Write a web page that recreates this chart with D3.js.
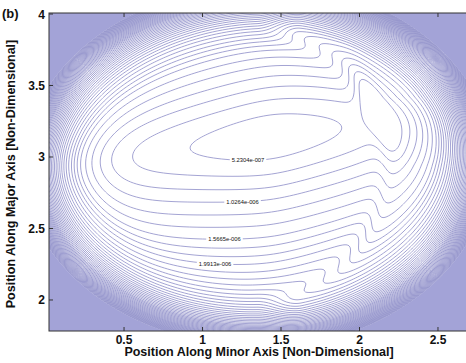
<!DOCTYPE html>
<html>
<head>
<meta charset="utf-8">
<script src="https://cdn.jsdelivr.net/npm/d3@7"></script>
<style>
  body { margin: 0; background: #fff; }
  svg { display: block; }
  text { font-family: Arial, "Liberation Sans", sans-serif; fill: #111; }
</style>
</head>
<body>
<svg id="chart" width="466" height="363"></svg>
<script>
// Axis ranges and ticks
const xDomain = [0.022, 2.704];
const yDomain = [1.783, 4.007];
const xTicks = [0.5, 1, 1.5, 2, 2.5];
const yTicks = [2, 2.5, 3, 3.5, 4];

// Labelled contour levels and where they are written
const labelValues = [5.2304e-7, 1.0264e-6, 1.5665e-6, 1.9913e-6];
const labelTexts = ["5.2304e-007", "1.0264e-006", "1.5665e-006", "1.9913e-006"];
const labelX = [1.29, 1.255, 1.14, 1.08];
const labelYGuess = [2.98, 2.71, 2.50, 2.31];
// number of level intervals between consecutive labelled levels
const stepsBetweenLabels = [3, 3, 3];
const outerStep = 0.16e-6;   // level spacing beyond the last labelled level
const levelCap = 9e-6;       // highest drawn level, solid above
const hazeLevels = [5e-6, 6.5e-6, 7.8e-6];  // light shading where lines crowd together

// Field model (micro-units): tilted valley, steep outer wall,
// a ring-shaped step on the right and an elongated pocket on that ring
const valley = { x: 1.43, y: 3.14, tilt: 0.15, base: 0.408 };
const valleySlope = { left: 0.33, right: 0.36, y: 2.2, cx: 0.2, cy: 0.2 };
const wall = { x: 1.347, y: 2.93, ax: 1.24, ay: 1.08, k: 1.8, p: 4 };
const ring = { x: 1.30, y: 2.944, rx: 0.86, ry: 0.944, depth: 0.38, gainBelow: 0.35, gainAbove: 0.9, width: 0.03 };
const pocket = { x: 2.08, y: 3.37, dirX: 0.394, dirY: -0.919, len: 0.28, wid: 0.075, depth: 0.4 };

function smoothstep(e0, e1, v) {
  const t = Math.max(0, Math.min(1, (v - e0) / (e1 - e0)));
  return t * t * (3 - 2 * t);
}

function field(x, y) {
  const dx = x - valley.x;
  const dy = y - (valley.y + valley.tilt * dx);
  const sx = dx < 0 ? valleySlope.left : valleySlope.right;
  const tx = sx * (Math.sqrt(dx * dx + valleySlope.cx ** 2) - valleySlope.cx);
  const ty = valleySlope.y * (Math.sqrt(dy * dy + valleySlope.cy ** 2) - valleySlope.cy);
  const ox = (x - wall.x) / wall.ax, oy = (y - wall.y) / wall.ay;
  const w = wall.k * Math.pow(ox * ox + oy * oy, wall.p);
  const rx = (x - ring.x) / ring.rx, ry = (y - ring.y) / ring.ry;
  const rr = Math.hypot(rx, ry) || 1e-9;
  const side = smoothstep(0.05, 0.35, rx / rr);
  const depth = ring.depth + ring.gainBelow * Math.max(0, -ry) + ring.gainAbove * Math.max(0, ry - 0.5);
  const step = -depth * side / (1 + Math.exp(-(rr - 1) / ring.width));
  const px = x - pocket.x, py = y - pocket.y;
  const u = px * pocket.dirX + py * pocket.dirY;
  const v = px * -pocket.dirY + py * pocket.dirX;
  const dip = -pocket.depth * Math.exp(-(u * u) / (pocket.len ** 2) - (v * v) / (pocket.wid ** 2));
  return (valley.base + tx + ty + w + step + dip) * 1e-6;
}

// Contour levels
const levels = [];
labelValues.forEach((v, i) => {
  if (i < stepsBetweenLabels.length) {
    const n = stepsBetweenLabels[i];
    const d = (labelValues[i + 1] - v) / n;
    for (let k = 0; k < n; k++) levels.push(v + k * d);
  } else {
    for (let l = v; l <= levelCap; l += outerStep) levels.push(l);
  }
});

const svg = d3.select("#chart");
const plot = { left: 49, top: 13, right: 470, bottom: 331 };
const x = d3.scaleLinear().domain(xDomain).range([plot.left, plot.right]);
const y = d3.scaleLinear().domain(yDomain).range([plot.bottom, plot.top]);

// Sample the field on a pixel grid slightly larger than the plot
const pad = 3;
const gx0 = plot.left - pad, gy0 = plot.top - pad;
const nx = plot.right - plot.left + 2 * pad + 1;
const ny = plot.bottom - plot.top + 2 * pad + 1;
const values = new Float64Array(nx * ny);
for (let j = 0; j < ny; j++) {
  const yy = y.invert(gy0 + j);
  for (let i = 0; i < nx; i++) values[i + j * nx] = field(x.invert(gx0 + i), yy);
}

const toScreen = d3.geoTransform({
  point(px, py) { this.stream.point(gx0 + px - 0.5, gy0 + py - 0.5); }
});
const path = d3.geoPath(toScreen);

svg.append("clipPath").attr("id", "clip")
  .append("rect").attr("x", plot.left).attr("y", plot.top)
  .attr("width", plot.right - plot.left).attr("height", plot.bottom - plot.top);

const g = svg.append("g").attr("clip-path", "url(#clip)");
g.append("rect").attr("x", plot.left).attr("y", plot.top)
  .attr("width", plot.right - plot.left).attr("height", plot.bottom - plot.top)
  .attr("fill", "#ffffff");

const gen = d3.contours().size([nx, ny]);
g.selectAll("path.haze")
  .data(hazeLevels.map(l => gen.contour(values, l)))
  .join("path").attr("class", "haze")
  .attr("d", path).attr("fill", "#a3a3d7").attr("fill-opacity", 0.22).attr("stroke", "none");
g.append("path").datum(gen.contour(values, levelCap))
  .attr("d", path).attr("fill", "#a3a3d7").attr("stroke", "none");

g.selectAll("path.level")
  .data(levels.map(l => gen.contour(values, l)))
  .join("path")
  .attr("class", "level")
  .attr("d", path)
  .attr("fill", "none")
  .attr("stroke", "#9393cb")
  .attr("stroke-width", 0.85);

// Inline labels on the labelled levels
labelValues.forEach((v, i) => {
  let lo = labelYGuess[i] - 0.15, hi = labelYGuess[i] + 0.15;
  const f = yy => field(labelX[i], yy) - v;
  for (let k = 0; k < 40; k++) {
    const mid = (lo + hi) / 2;
    if (f(mid) > 0) lo = mid; else hi = mid;
  }
  const px = x(labelX[i]), py = y((lo + hi) / 2);
  const t = g.append("text").attr("x", px).attr("y", py + 1.9)
    .attr("text-anchor", "middle").style("font-size", "5.8px").text(labelTexts[i]);
  const bb = t.node().getBBox();
  g.insert("rect", function () { return t.node(); })
    .attr("x", bb.x - 2).attr("y", py - 2.5).attr("width", bb.width + 4).attr("height", 5)
    .attr("fill", "#fff");
});

// Frame and inward ticks
const axisColor = "#333";
svg.append("rect").attr("x", plot.left).attr("y", plot.top)
  .attr("width", plot.right - plot.left).attr("height", plot.bottom - plot.top)
  .attr("fill", "none").attr("stroke", axisColor).attr("stroke-width", 1);

const tickLen = 4;
xTicks.forEach(t => {
  svg.append("line").attr("x1", x(t)).attr("x2", x(t)).attr("y1", plot.bottom).attr("y2", plot.bottom - tickLen).attr("stroke", axisColor);
  svg.append("line").attr("x1", x(t)).attr("x2", x(t)).attr("y1", plot.top).attr("y2", plot.top + tickLen).attr("stroke", axisColor);
  svg.append("text").attr("x", x(t)).attr("y", plot.bottom + 12.5)
    .attr("text-anchor", "middle").style("font-size", "12px").style("font-weight", "bold").text(t);
});
yTicks.forEach(t => {
  svg.append("line").attr("x1", plot.left).attr("x2", plot.left + tickLen).attr("y1", y(t)).attr("y2", y(t)).attr("stroke", axisColor);
  svg.append("text").attr("x", plot.left - 4).attr("y", y(t) + 4.5)
    .attr("text-anchor", "end").style("font-size", "12px").style("font-weight", "bold").text(t);
});

svg.append("text").attr("x", 259).attr("y", 356).attr("text-anchor", "middle")
  .style("font-size", "12.5px").style("font-weight", "bold")
  .text("Position Along Minor Axis [Non-Dimensional]");
svg.append("text").attr("transform", "translate(15,174) rotate(-90)").attr("text-anchor", "middle")
  .style("font-size", "12.5px").style("font-weight", "bold")
  .text("Position Along Major Axis [Non-Dimensional]");
svg.append("text").attr("x", 2).attr("y", 18).style("font-size", "13px").style("font-weight", "bold").text("(b)");
</script>
</body>
</html>
